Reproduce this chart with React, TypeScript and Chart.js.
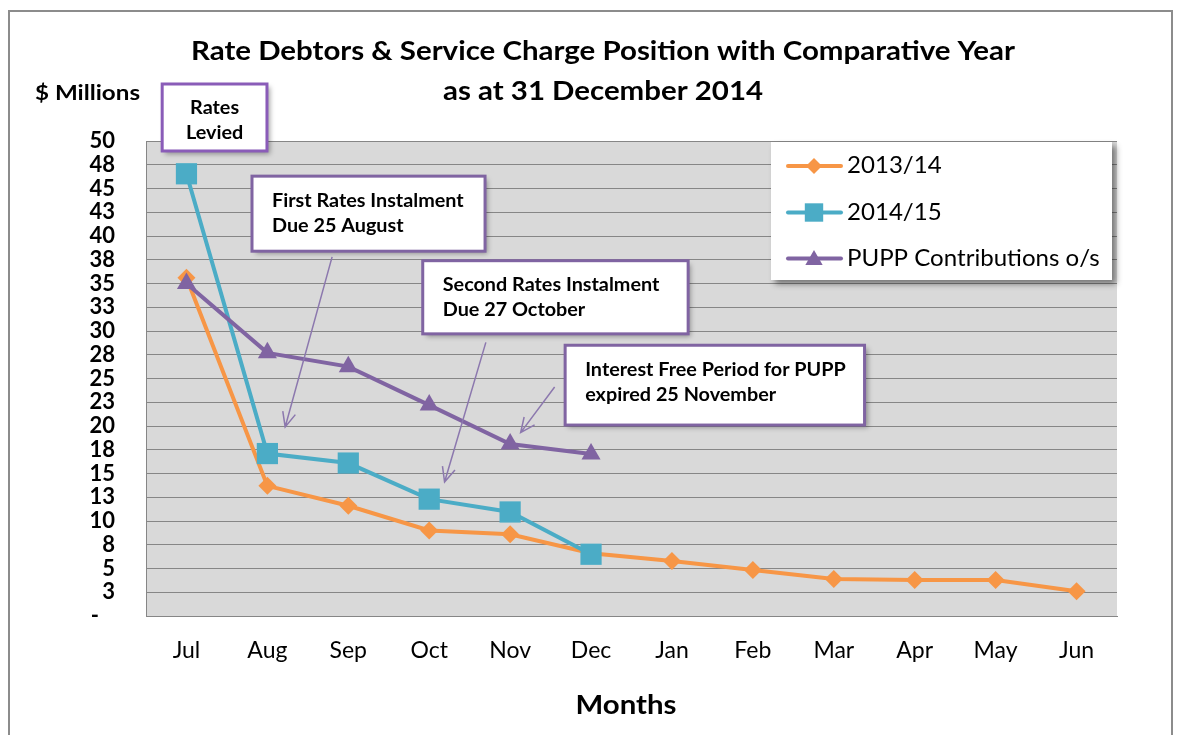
import React, { useEffect, useRef } from 'react';
import { Chart, registerables } from 'chart.js';

Chart.register(...registerables);

const FONT = 'Lato, "Open Sans", sans-serif';

const months = ['Jul', 'Aug', 'Sep', 'Oct', 'Nov', 'Dec', 'Jan', 'Feb', 'Mar', 'Apr', 'May', 'Jun'];
const series2013 = [35.6, 13.7, 11.6, 9.0, 8.6, 6.6, 5.8, 4.85, 3.9, 3.8, 3.8, 2.6];
const series2014 = [46.55, 17.1, 16.1, 12.3, 10.95, 6.5, null, null, null, null, null, null];
const seriesPUPP = [35.0, 27.7, 26.25, 22.2, 18.1, 17.05, null, null, null, null, null, null];
const seriesNames = ['2013/14', '2014/15', 'PUPP Contributions o/s'];
const seriesColors = ['#F79646', '#4BACC6', '#8064A2'];
const seriesMarkers = ['rectRot', 'rect', 'triangle'];
const markerRadius = [9, 15, 11];

const yMin = 0;
const yMax = 50;
const yStep = 2.5;

const titleLines = ['Rate Debtors & Service Charge Position with Comparative Year', 'as at 31 December 2014'];
const yAxisTitle = '$ Millions';
const xAxisTitle = 'Months';

// annotation callouts (in data coordinates: category index / value)
const calloutTexts = [
  ['Rates', 'Levied'],
  ['First Rates Instalment', 'Due 25 August'],
  ['Second Rates Instalment', 'Due 27 October'],
  ['Interest Free Period for PUPP', 'expired 25 November'],
];
const calloutX0 = [-0.30, 0.81, 2.92, 4.68];
const calloutX1 = [0.995, 3.69, 6.20, 8.38];
const calloutYTop = [56.0, 46.3, 37.4, 28.5];
const calloutYBottom = [48.95, 38.4, 29.7, 20.1];
const calloutAlign = ['center', 'left', 'left', 'left'];
const calloutBorder = ['#8A5CB8', '#8064A2', '#8064A2', '#8064A2'];

const arrowFromX = [1.80, 3.70, 4.55];
const arrowFromY = [37.8, 28.8, 24.1];
const arrowToX = [1.22, 3.19, 4.13];
const arrowToY = [19.9, 14.1, 19.3];

function drawText(ctx: CanvasRenderingContext2D, text: string, x: number, y: number, align: CanvasTextAlign, sx: number) {
  ctx.save();
  ctx.translate(x, y);
  ctx.scale(sx, 1);
  ctx.textAlign = align;
  ctx.textBaseline = 'middle';
  ctx.fillText(text, 0, 0);
  ctx.restore();
}

function drawTextWidth(ctx: CanvasRenderingContext2D, text: string, x: number, y: number, align: CanvasTextAlign, width: number) {
  const w = ctx.measureText(text).width;
  drawText(ctx, text, x, y, align, w > 0 ? width / w : 1);
}

function drawMarker(ctx: CanvasRenderingContext2D, style: string, x: number, y: number, r: number, color: string) {
  ctx.save();
  ctx.fillStyle = color;
  ctx.beginPath();
  if (style === 'rectRot') {
    ctx.moveTo(x, y - r);
    ctx.lineTo(x + r, y);
    ctx.lineTo(x, y + r);
    ctx.lineTo(x - r, y);
  } else if (style === 'rect') {
    const s = Math.SQRT1_2 * r;
    ctx.rect(x - s, y - s, 2 * s, 2 * s);
  } else {
    const h = r * 1.5;
    const w = r * Math.sqrt(3);
    ctx.moveTo(x, y - h / 2 - 1);
    ctx.lineTo(x + w / 2, y + h / 2 - 1);
    ctx.lineTo(x - w / 2, y + h / 2 - 1);
  }
  ctx.closePath();
  ctx.fill();
  ctx.restore();
}

const decorPlugin = {
  id: 'decor',
  beforeDraw(chart: any) {
    const { ctx, chartArea } = chart;
    ctx.save();
    ctx.fillStyle = '#ffffff';
    ctx.fillRect(0, 0, chart.width, chart.height);
    ctx.fillStyle = '#D9D9D9';
    ctx.fillRect(chartArea.left, chartArea.top, chartArea.right - chartArea.left, chartArea.bottom - chartArea.top);
    // outer frame
    ctx.strokeStyle = '#8C8C8C';
    ctx.lineWidth = 2;
    ctx.strokeRect(9, 11, 1163, 740);
    ctx.restore();
  },
  afterDraw(chart: any) {
    const { ctx } = chart;
    const xs = chart.scales.x;
    const ys = chart.scales.y;
    ctx.save();

    // titles
    ctx.fillStyle = '#000';
    ctx.font = `bold 26px ${FONT}`;
    drawTextWidth(ctx, titleLines[0], 603, 52, 'center', 824);
    drawTextWidth(ctx, titleLines[1], 603, 92, 'center', 320);

    ctx.font = `bold 21px ${FONT}`;
    drawTextWidth(ctx, yAxisTitle, 35, 93, 'left', 105);

    ctx.font = `bold 27px ${FONT}`;
    drawTextWidth(ctx, xAxisTitle, 626, 705, 'center', 101);

    // arrows
    ctx.strokeStyle = '#8C78AE';
    ctx.lineWidth = 1.5;
    for (let i = 0; i < arrowFromX.length; i++) {
      const x1 = xs.getPixelForValue(arrowFromX[i]);
      const y1 = ys.getPixelForValue(arrowFromY[i]);
      const x2 = xs.getPixelForValue(arrowToX[i]);
      const y2 = ys.getPixelForValue(arrowToY[i]);
      ctx.beginPath();
      ctx.moveTo(x1, y1);
      ctx.lineTo(x2, y2);
      const a = Math.atan2(y2 - y1, x2 - x1);
      const len = 16;
      const sp = 0.42;
      ctx.moveTo(x2 - len * Math.cos(a - sp), y2 - len * Math.sin(a - sp));
      ctx.lineTo(x2, y2);
      ctx.lineTo(x2 - len * Math.cos(a + sp), y2 - len * Math.sin(a + sp));
      ctx.stroke();
    }

    // callouts
    for (let i = 0; i < calloutTexts.length; i++) {
      const l = xs.getPixelForValue(calloutX0[i]);
      const r = xs.getPixelForValue(calloutX1[i]);
      const t = ys.getPixelForValue(calloutYTop[i]);
      const b = ys.getPixelForValue(calloutYBottom[i]);
      ctx.save();
      ctx.shadowColor = 'rgba(0,0,0,0.35)';
      ctx.shadowBlur = 5;
      ctx.shadowOffsetX = 3;
      ctx.shadowOffsetY = 3;
      ctx.fillStyle = '#ffffff';
      ctx.fillRect(l, t, r - l, b - t);
      ctx.restore();
      ctx.strokeStyle = calloutBorder[i];
      ctx.lineWidth = 3;
      ctx.strokeRect(l, t, r - l, b - t);
      ctx.fillStyle = '#000';
      ctx.font = `bold 18.5px ${FONT}`;
      const lines = calloutTexts[i];
      for (let j = 0; j < lines.length; j++) {
        const ty = t + 24.5 + j * 25;
        if (calloutAlign[i] === 'center') {
          drawText(ctx, lines[j], (l + r) / 2, ty, 'center', 1.07);
        } else {
          drawText(ctx, lines[j], l + 20, ty, 'left', 1.07);
        }
      }
    }

    // legend
    const lx = 771, ly = 142, lw = 341, lh = 138;
    ctx.save();
    ctx.shadowColor = 'rgba(0,0,0,0.45)';
    ctx.shadowBlur = 6;
    ctx.shadowOffsetX = 4;
    ctx.shadowOffsetY = 4;
    ctx.fillStyle = '#ffffff';
    ctx.fillRect(lx, ly, lw, lh);
    ctx.restore();
    const rowY = [166, 212.5, 258.5];
    for (let i = 0; i < seriesNames.length; i++) {
      ctx.strokeStyle = seriesColors[i];
      ctx.lineWidth = 4;
      ctx.lineCap = 'round';
      ctx.beginPath();
      ctx.moveTo(788, rowY[i]);
      ctx.lineTo(841, rowY[i]);
      ctx.stroke();
      drawMarker(ctx, seriesMarkers[i], 814, rowY[i], i === 0 ? 8 : i === 1 ? 13 : 10, seriesColors[i]);
      ctx.fillStyle = '#000';
      ctx.font = `22.5px ${FONT}`;
      drawText(ctx, seriesNames[i], 847, rowY[i], 'left', 1.07);
    }
    ctx.restore();
  },
};

export default function App() {
  const ref = useRef<HTMLCanvasElement | null>(null);
  useEffect(() => {
    document.body.style.margin = '0';
    const canvas = ref.current;
    if (!canvas) return;
    const data = [series2013, series2014, seriesPUPP];
    const chart = new Chart(canvas, {
      type: 'line',
      data: {
        labels: months,
        datasets: data.map((d, i) => ({
          label: seriesNames[i],
          data: d,
          order: data.length - 1 - i,
          borderColor: seriesColors[i],
          backgroundColor: seriesColors[i],
          borderWidth: 4,
          pointStyle: seriesMarkers[i] as any,
          pointRadius: markerRadius[i],
          pointBorderWidth: 0,
          pointBackgroundColor: seriesColors[i],
          pointBorderColor: seriesColors[i],
          tension: 0,
          spanGaps: false,
        })),
      },
      options: {
        animation: false,
        responsive: false,
        events: [],
        layout: { padding: { left: 0, right: 64, top: 141, bottom: 0 } },
        plugins: { legend: { display: false }, title: { display: false }, tooltip: { enabled: false } },
        scales: {
          x: {
            offset: true,
            grid: { display: false, drawTicks: false },
            border: { display: true, color: '#868686', width: 1 },
            ticks: { color: '#000', font: { family: FONT, size: 23 }, padding: 21, maxRotation: 0, autoSkip: false },
            afterFit: (s: any) => { s.height = 119; },
          },
          y: {
            min: yMin,
            max: yMax,
            grid: { color: '#868686', lineWidth: 1, drawTicks: false },
            border: { display: true, color: '#868686', width: 1 },
            ticks: {
              stepSize: yStep,
              autoSkip: false,
              color: '#000',
              padding: 31,
              font: { family: FONT, size: 22, weight: 'bold' },
              callback: (v: any) => (Number(v) === 0 ? '-   ' : String(Math.round(Number(v)))),
            },
            afterFit: (s: any) => { s.width = 146; },
          },
        },
      },
      plugins: [decorPlugin],
    });
    return () => chart.destroy();
  }, []);
  return (
    <div style={{ width: 1181, height: 735, position: 'relative' }}>
      <canvas ref={ref} width={1181} height={735} style={{ width: 1181, height: 735, display: 'block' }} />
    </div>
  );
}
